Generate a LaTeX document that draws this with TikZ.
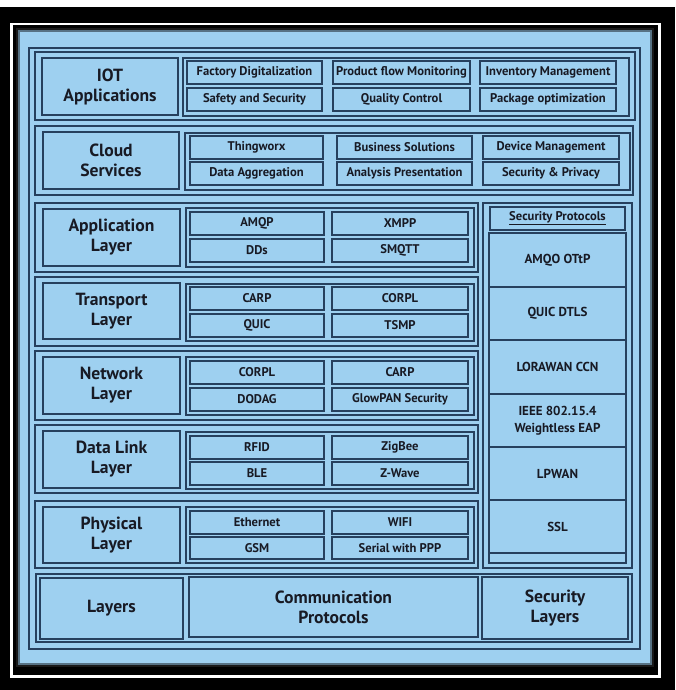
\documentclass[tikz,border=0pt]{standalone}
\usepackage{fontspec}
\setmainfont{PT Sans}
\definecolor{panel}{RGB}{158,208,240}
\definecolor{edge}{RGB}{38,64,94}
\definecolor{ink}{RGB}{24,26,36}
\tikzset{
  box/.style={draw=edge,line width=1.2pt,fill=panel,inner sep=0pt,outer sep=0pt,align=center,text=ink,font=\bfseries\fontsize{12.6}{15}\selectfont},
  framebox/.style={box,line width=1.3pt},
  lab/.style={font=\bfseries\fontsize{17.6}{20}\selectfont},
  sec/.style={font=\bfseries\fontsize{13}{17}\selectfont},
}
\newcommand\bx[7][]{\node[box,#1,minimum width={(#5-#3)*1pt},minimum height={(#6-#4)*1pt}] (#2) at ({(#3+#5)/2},{(#4+#6)/2}) {#7};}
\begin{document}
\begin{tikzpicture}[x=1pt,y=-1pt]
\useasboundingbox (0,0) rectangle (675,690);
% background
\fill[black] (0,0) rectangle (675,690);
\fill[white] (0,0) rectangle (675,7);
\draw[white,line width=2.5pt] (11.5,24) rectangle (659.5,676.5);
\fill[panel] (16,28) rectangle (654,667);
\draw[black!90,line width=2.5pt] (17,29) rectangle (653,666);
\draw[black!45!panel,line width=1.5pt] (19,31) rectangle (651,664);
% overall frame
\bx[framebox]{outer}{29}{48}{640}{649}{}
% row 1
\bx[framebox]{r1}{35}{52}{635}{120}{}
\bx[lab]{l1}{42}{58}{178}{115}{IOT\\Applications}
\bx{c1}{183}{58}{629}{116}{}
\bx{a1}{187}{61}{322}{84}{Factory Digitalization}
\bx{a2}{333}{61}{470}{84}{Product flow Monitoring}
\bx{a3}{480}{61}{616}{84}{Inventory Management}
\bx{a4}{187}{88}{322}{111}{Safety and Security}
\bx{a5}{333}{88}{470}{111}{Quality Control}
\bx{a6}{480}{88}{616}{111}{Package optimization}
% row 2
\bx[framebox]{r2}{35}{126}{633}{195}{}
\bx[lab]{l2}{43}{132}{179}{189}{Cloud\\Services}
\bx{c2}{185}{133}{630}{190}{}
\bx{b1}{190}{136}{323}{159}{Thingworx}
\bx{b2}{337}{136}{472}{159}{Business Solutions}
\bx{b3}{483}{136}{619}{159}{Device Management}
\bx{b4}{190}{162}{323}{185}{Data Aggregation}
\bx{b5}{337}{162}{472}{185}{Analysis Presentation}
\bx{b6}{483}{162}{619}{185}{Security \& Privacy}
% row 3
\bx[framebox]{r3}{35}{203}{478}{272}{}
\bx[lab]{l3}{43}{209}{180}{266}{Application\\Layer}
\bx{c3}{186}{208}{474}{267}{}
\bx{d1}{190}{212}{324}{235}{AMQP}
\bx{d2}{332}{212}{468}{235}{XMPP}
\bx{d3}{190}{239}{324}{262}{DDs}
\bx{d4}{332}{239}{468}{262}{SMQTT}
% row 4
\bx[framebox]{r4}{35}{277}{478}{346}{}
\bx[lab]{l4}{43}{283}{180}{339}{Transport\\Layer}
\bx{c4}{186}{284}{474}{341}{}
\bx{e1}{190}{287}{324}{310}{CARP}
\bx{e2}{332}{287}{468}{310}{CORPL}
\bx{e3}{190}{314}{324}{337}{QUIC}
\bx{e4}{332}{314}{468}{337}{TSMP}
% row 5
\bx[framebox]{r5}{35}{351}{478}{420}{}
\bx[lab]{l5}{43}{357}{180}{414}{Network\\Layer}
\bx{c5}{186}{357}{474}{415}{}
\bx{f1}{190}{361}{324}{384}{CORPL}
\bx{f2}{332}{361}{468}{384}{CARP}
\bx{f3}{190}{388}{324}{411}{DODAG}
\bx{f4}{332}{388}{468}{411}{GlowPAN Security}
% row 6
\bx[framebox]{r6}{35}{425}{478}{493}{}
\bx[lab]{l6}{43}{431}{180}{488}{Data Link\\Layer}
\bx{c6}{186}{432}{474}{489}{}
\bx{g1}{190}{436}{324}{459}{RFID}
\bx{g2}{332}{436}{468}{459}{ZigBee}
\bx{g3}{190}{462}{324}{485}{BLE}
\bx{g4}{332}{462}{468}{485}{Z-Wave}
% row 7
\bx[framebox]{r7}{35}{501}{478}{568}{}
\bx[lab]{l7}{43}{507}{180}{563}{Physical\\Layer}
\bx{c7}{186}{507}{474}{563}{}
\bx{h1}{190}{511}{324}{534}{Ethernet}
\bx{h2}{332}{511}{468}{534}{WIFI}
\bx{h3}{190}{537}{324}{559}{GSM}
\bx{h4}{332}{537}{468}{559}{Serial with PPP}
% security column
\bx[framebox]{sc}{483}{203}{632}{568}{}
\bx{sh}{490}{207}{625}{230}{\underline{Security Protocols}}
\bx[sec]{s1}{489}{233}{626}{287}{AMQO OTtP}
\bx[sec]{s2}{489}{287}{626}{340}{QUIC DTLS}
\bx[sec]{s3}{489}{340}{626}{394}{LORAWAN CCN}
\bx[sec]{s4}{489}{394}{626}{447}{IEEE 802.15.4\\Weightless EAP}
\bx[sec]{s5}{489}{447}{626}{500}{LPWAN}
\bx[sec]{s6}{489}{500}{626}{553}{SSL}
\bx{s7}{489}{553}{626}{563}{}
% row 8
\bx[framebox]{r8}{36}{574}{632}{642}{}
\bx[lab]{k1}{40}{578}{183}{639}{Layers}
\bx[lab]{k2}{189}{577}{478}{637}{Communication\\Protocols}
\bx[lab]{k3}{482}{577}{628}{639}{Security\\Layers}
\end{tikzpicture}
\end{document}
